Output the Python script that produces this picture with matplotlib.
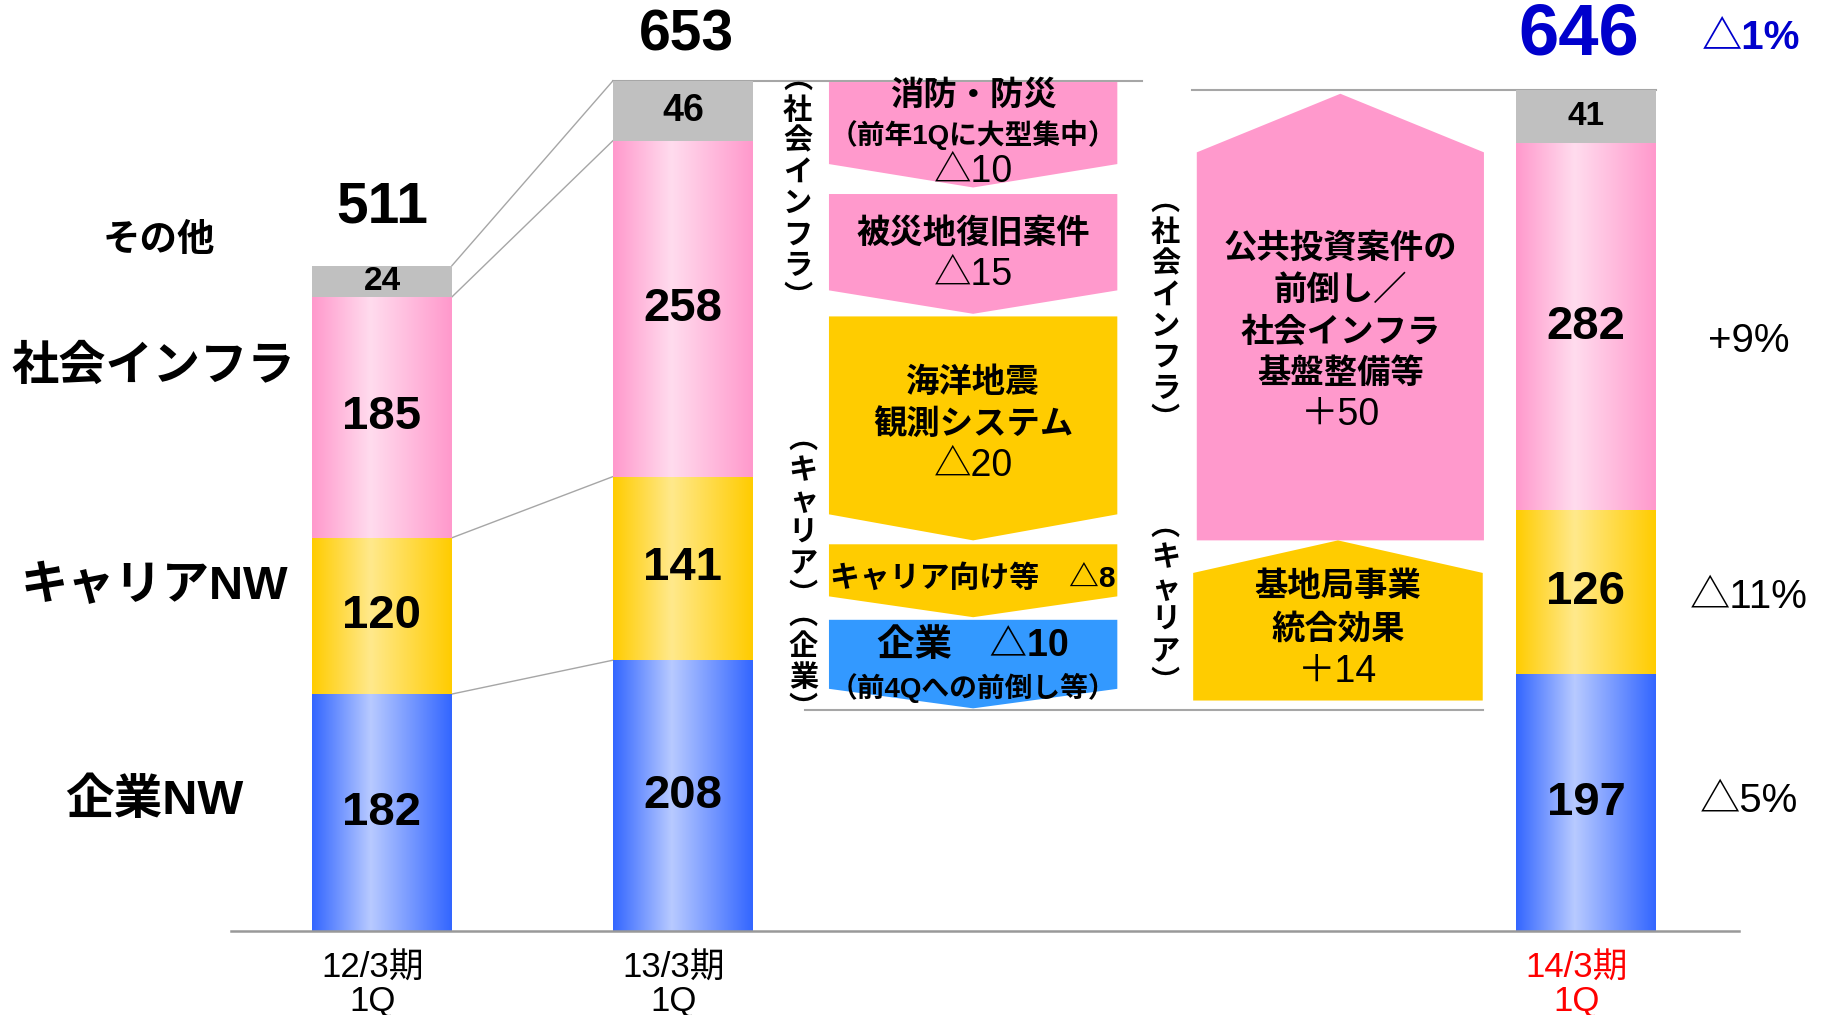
import matplotlib.pyplot as plt
import numpy as np
from matplotlib.colors import LinearSegmentedColormap
from matplotlib.patches import Polygon

# stacked bars: 12/3期1Q, 13/3期1Q, 14/3期1Q
periods = ["12/3期\n1Q", "13/3期\n1Q", "14/3期\n1Q"]
period_pos = [0, 1, 4]
segment_names = ["企業NW", "キャリアNW", "社会インフラ", "その他"]
enterprise = [182, 208, 197]
carrier = [120, 141, 126]
infra = [185, 258, 282]
other = [24, 46, 41]
totals = [511, 653, 646]
yoy_seg = ["△5%", "△11%", "+9%"]
yoy_total = "△1%"

# waterfall notes between 13/3 and 14/3 (illustrative boxes, not to scale)
down_texts = [
    ["消防・防災", "（前年1Qに大型集中）", "△10"],
    ["被災地復旧案件", "△15"],
    ["海洋地震", "観測システム", "△20"],
    ["キャリア向け等　△8"],
    ["企業　△10", "（前4Qへの前倒し等）"],
]
up_texts = [
    ["公共投資案件の", "前倒し／", "社会インフラ", "基盤整備等", "＋50"],
    ["基地局事業", "統合効果", "＋14"],
]

JP = ["Noto Sans CJK JP", "DejaVu Sans"]
NUM = ["Liberation Sans", "Noto Sans CJK JP", "DejaVu Sans"]
NARROW = ["Liberation Sans Narrow", "Liberation Sans", "Noto Sans CJK JP"]

PINK, YELLOW, BLUE, GRAY = "#FF99CC", "#FFCC00", "#3399FF", "#C0C0C0"
grad_cols = [("#3366FF", "#B8CAFF"), ("#FFCC00", "#FFE98C"), ("#FF99CC", "#FFDCEE"), None]

fig = plt.figure(figsize=(18.31, 10.15), dpi=100)
ax = fig.add_axes([0, 0, 1, 1])
width = 0.465


def gradient_fill(patch, edge, light):
    cmap = LinearSegmentedColormap.from_list("g", [(0, edge), (0.42, light), (1, edge)])
    x0, y0 = patch.get_x(), patch.get_y()
    w, h = patch.get_width(), patch.get_height()
    grad = np.linspace(0, 1, 256).reshape(1, -1)
    im = ax.imshow(grad, cmap=cmap, extent=(x0, x0 + w, y0, y0 + h),
                   aspect="auto", interpolation="bilinear", zorder=2)
    im.set_clip_path(patch)


bottoms = np.zeros(3)
levels = []
for vals, gc in zip([enterprise, carrier, infra, other], grad_cols):
    vals = np.array(vals)
    bars = ax.bar(period_pos, vals, width, bottom=bottoms,
                  color=GRAY if gc is None else "none", edgecolor="none", zorder=2)
    for b, v in zip(bars, vals):
        if gc is not None:
            gradient_fill(b, *gc)
        fs = 34 if v > 60 else (27 if v > 43 else 24)
        ax.text(b.get_x() + b.get_width() / 2, b.get_y() + v / 2, str(v),
                ha="center", va="center", fontsize=fs, fontweight="bold",
                family=NUM, zorder=4)
    bottoms = bottoms + vals
    levels.append(bottoms.copy())

# change vs previous year, right of the 14/3 bar
for s, ty in zip(yoy_seg, [99.5, 256.5, 453]):
    ax.text(4.54, ty, s, ha="center", va="center", fontsize=29, family=NUM)

# segment names on the left
ax.text(-0.74, 530, "その他", ha="center", va="center", fontsize=27, fontweight="bold", family=NUM)
ax.text(-0.76, 433, "社会インフラ", ha="center", va="center", fontsize=34, fontweight="bold", family=NUM)
ax.text(-0.757, 264, "キャリアNW", ha="center", va="center", fontsize=34, fontweight="bold", family=NUM)
ax.text(-0.757, 100, "企業NW", ha="center", va="center", fontsize=35, fontweight="bold", family=NUM)

# totals
ax.text(0, totals[0] + 45, str(totals[0]), ha="center", va="center", fontsize=41, fontweight="bold", family=NUM)
ax.text(1.01, totals[1] + 35, str(totals[1]), ha="center", va="center", fontsize=41, fontweight="bold", family=NUM)
ax.text(3.976, totals[2] + 42, str(totals[2]), ha="center", va="center", fontsize=52,
        fontweight="bold", family=NUM, color="#0000CC")
ax.text(4.55, 686, yoy_total, ha="center", va="center", fontsize=29, fontweight="bold",
        family=NUM, color="#0000CC")

# connector lines
lc = "#A6A6A6"
for lv in levels:
    ax.plot([width / 2, 1 - width / 2], [lv[0], lv[1]], color=lc, lw=1, zorder=1)
ax.plot([1 - width / 2, 2.525], [totals[1], totals[1]], color=lc, lw=1.5, zorder=1)
ax.plot([2.69, 4 + width / 2], [totals[2], totals[2]], color=lc, lw=1.5, zorder=1)
ax.plot([1.407, 3.657], [170, 170], color=lc, lw=1.5, zorder=1)
ax.plot([-0.5, 4.51], [0, 0], color="#999999", lw=1.8, zorder=3)


def note_text(x, y, s, small_fs=20, fs=24):
    if s.startswith("（"):
        ax.text(x, y, s, ha="center", va="center", fontsize=small_fs, fontweight="bold",
                family=NUM, zorder=4)
    elif s[0] in "△＋":
        ax.text(x, y, s, ha="center", va="center", fontsize=27, family=NUM, zorder=4)
    else:
        ax.text(x, y, s, ha="center", va="center", fontsize=fs, fontweight="bold",
                family=NUM, zorder=4)


# down arrows (left column of notes)
dx0, dx1 = 1.485, 2.443
down_geo = [(652, 589, 571), (566, 492, 474), (472, 320, 300), (297, 257, 241), (239, 186, 171)]
down_col = [PINK, PINK, YELLOW, YELLOW, BLUE]
down_ty = [[641, 611.7, 583], [535.4, 504], [420.6, 388.3, 357], [270.9], [218.8, 186.5]]
down_fs = [24, 24, 24, 21.5, 27]
for (top, side, tip), col, lines, tys, fs in zip(down_geo, down_col, down_texts, down_ty, down_fs):
    xc = (dx0 + dx1) / 2
    ax.add_patch(Polygon([(dx0, top), (dx1, top), (dx1, side), (xc, tip), (dx0, side)],
                         closed=True, facecolor=col, edgecolor="none", zorder=2))
    for s, ty in zip(lines, tys):
        note_text(xc, ty, s, fs=fs)

# up arrows (right column of notes)
up_geo = [(2.707, 3.661, 300, 598, 643), (2.695, 3.657, 177, 275, 300)]
up_col = [PINK, YELLOW]
up_ty = [[523.8, 491.5, 459.2, 427.8, 396.4], [263.7, 231.4, 199.1]]
for (x0, x1, bot, side, tip), col, lines, tys in zip(up_geo, up_col, up_texts, up_ty):
    xc = (x0 + x1) / 2
    ax.add_patch(Polygon([(x0, bot), (x1, bot), (x1, side), (xc, tip), (x0, side)],
                         closed=True, facecolor=col, edgecolor="none", zorder=2))
    for s, ty in zip(lines, tys):
        note_text(xc, ty, s)

# vertical group labels
vert = [("社会インフラ", 1.381, 571), ("キャリア", 1.40, 318), ("企業", 1.40, 207),
        ("社会インフラ", 2.603, 477), ("キャリア", 2.603, 251)]
for word, vx, vy in vert:
    ax.text(vx, vy, "\n".join("︵" + word + "︶"), ha="center", va="center", fontsize=21,
            fontweight="bold", family=JP, linespacing=1.05)

# period labels
for p, lab in zip(period_pos, periods):
    ax.text(p - 0.03, -41, lab, ha="center", va="center", fontsize=25, family=NARROW,
            color="red" if p == 4 else "black", linespacing=1.0)

ax.set_xlim(-1.269, 4.814)
ax.set_ylim(-64.5, 715)
ax.axis("off")
fig.savefig("out.png", dpi=100)
